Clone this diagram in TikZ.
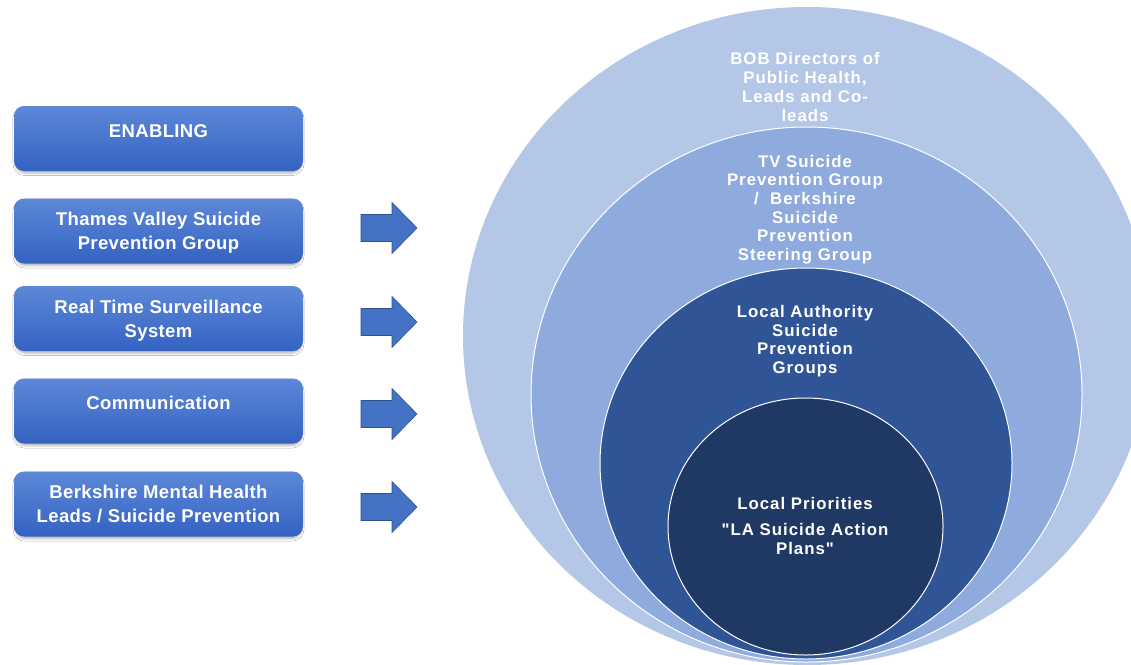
\documentclass[tikz,border=0pt]{standalone}
\usepackage{fontspec}
\setmainfont{Liberation Sans}
\newfontfamily\boxfont{Liberation Sans}[LetterSpace=2]
\newfontfamily\ringfont{Liberation Sans}[LetterSpace=6]
\usetikzlibrary{shapes.geometric,shadows.blur}
\definecolor{ringA}{HTML}{B4C7E7}
\definecolor{ringB}{HTML}{8FAADC}
\definecolor{ringC}{HTML}{2F5597}
\definecolor{ringD}{HTML}{1F3864}
\definecolor{boxtop}{RGB}{93,136,216}
\definecolor{boxbot}{RGB}{52,98,194}
\definecolor{arrowfill}{HTML}{4472C4}
\definecolor{arrowline}{HTML}{2F528F}
\tikzset{
  ring/.style={ellipse, inner sep=0pt},
  ringline/.style={draw=white, line width=1pt},
  ringtext/.style={text=white, align=center, inner sep=0pt,
    font=\ringfont\bfseries\fontsize{16.8}{18.7}\selectfont},
  boxnode/.style={rounded corners=10pt, minimum width=289pt, minimum height=65pt,
    inner sep=0pt, top color=boxtop, bottom color=boxbot,
    blur shadow={shadow xshift=0pt, shadow yshift=-2.5pt, shadow blur radius=2.5pt,
      shadow blur extra rounding=2pt, shadow opacity=30, shadow scale=0.99}},
  boxtext/.style={text=white, align=center, inner sep=0pt,
    font=\boxfont\bfseries\fontsize{18.5}{24}\selectfont},
  blockarrow/.style={fill=arrowfill, draw=arrowline, line width=0.6pt, line join=miter}
}
\begin{document}
\begin{tikzpicture}[x=1pt,y=-1pt]
\useasboundingbox (0,0) rectangle (1131,664);
\clip (0,0) rectangle (1131,664);
\fill[white] (0,0) rectangle (1131,664);

% rings
\node[ring, fill=ringA, minimum width=688pt, minimum height=658pt] (r1) at (807,336) {};
\node[ring, fill=ringB, ringline, minimum width=551pt, minimum height=535pt] (r2) at (806.5,394.5) {};
\node[ring, fill=ringC, ringline, minimum width=412pt, minimum height=391pt] (r3) at (806,463.5) {};
\node[ring, fill=ringD, ringline, minimum width=275pt, minimum height=257pt] (r4) at (805.5,526.5) {};

\node[ringtext] (t1) at (805,87) {BOB Directors of\\Public Health,\\Leads and Co-\\leads};
\node[ringtext] (t2) at (805,209.6) {TV Suicide\\Prevention Group\\/\ \ Berkshire\\Suicide\\Prevention\\Steering Group};
\node[ringtext] (t3) at (805,341) {Local Authority\\Suicide\\Prevention\\Groups};
\node[ringtext] (t4) at (805,526) {Local Priorities\\[7.5pt]"LA Suicide Action\\Plans"};

% boxes
\node[boxnode] (b1) at (158.5,138.5) {};
\node[boxnode] (b2) at (158.5,231) {};
\node[boxnode] (b3) at (158.5,318.5) {};
\node[boxnode] (b4) at (158.5,411) {};
\node[boxnode] (b5) at (158.5,504) {};

\node[boxtext] (bt1) at (158.5,131) {ENABLING};
\node[boxtext] (bt2) at (158.5,233) {Thames Valley Suicide\\Prevention Group};
\node[boxtext] (bt3) at (158.5,321) {Real Time Surveillance\\System};
\node[boxtext] (bt4) at (158.5,403) {Communication};
\node[boxtext] (bt5) at (158.5,504.2) {Berkshire Mental Health\\Leads / Suicide Prevention};

% block arrows
\coordinate (a1) at (361,228);
\coordinate (a2) at (361,322);
\coordinate (a3) at (361,414);
\coordinate (a4) at (361,507);
\foreach \a in {a1,a2,a3,a4}{
  \path[blockarrow, shift={(\a)}] (0,-13.5) -- (31,-13.5) -- (31,-25.5) -- (56,0)
    -- (31,25.5) -- (31,13.5) -- (0,13.5) -- cycle;
}
\end{tikzpicture}
\end{document}
